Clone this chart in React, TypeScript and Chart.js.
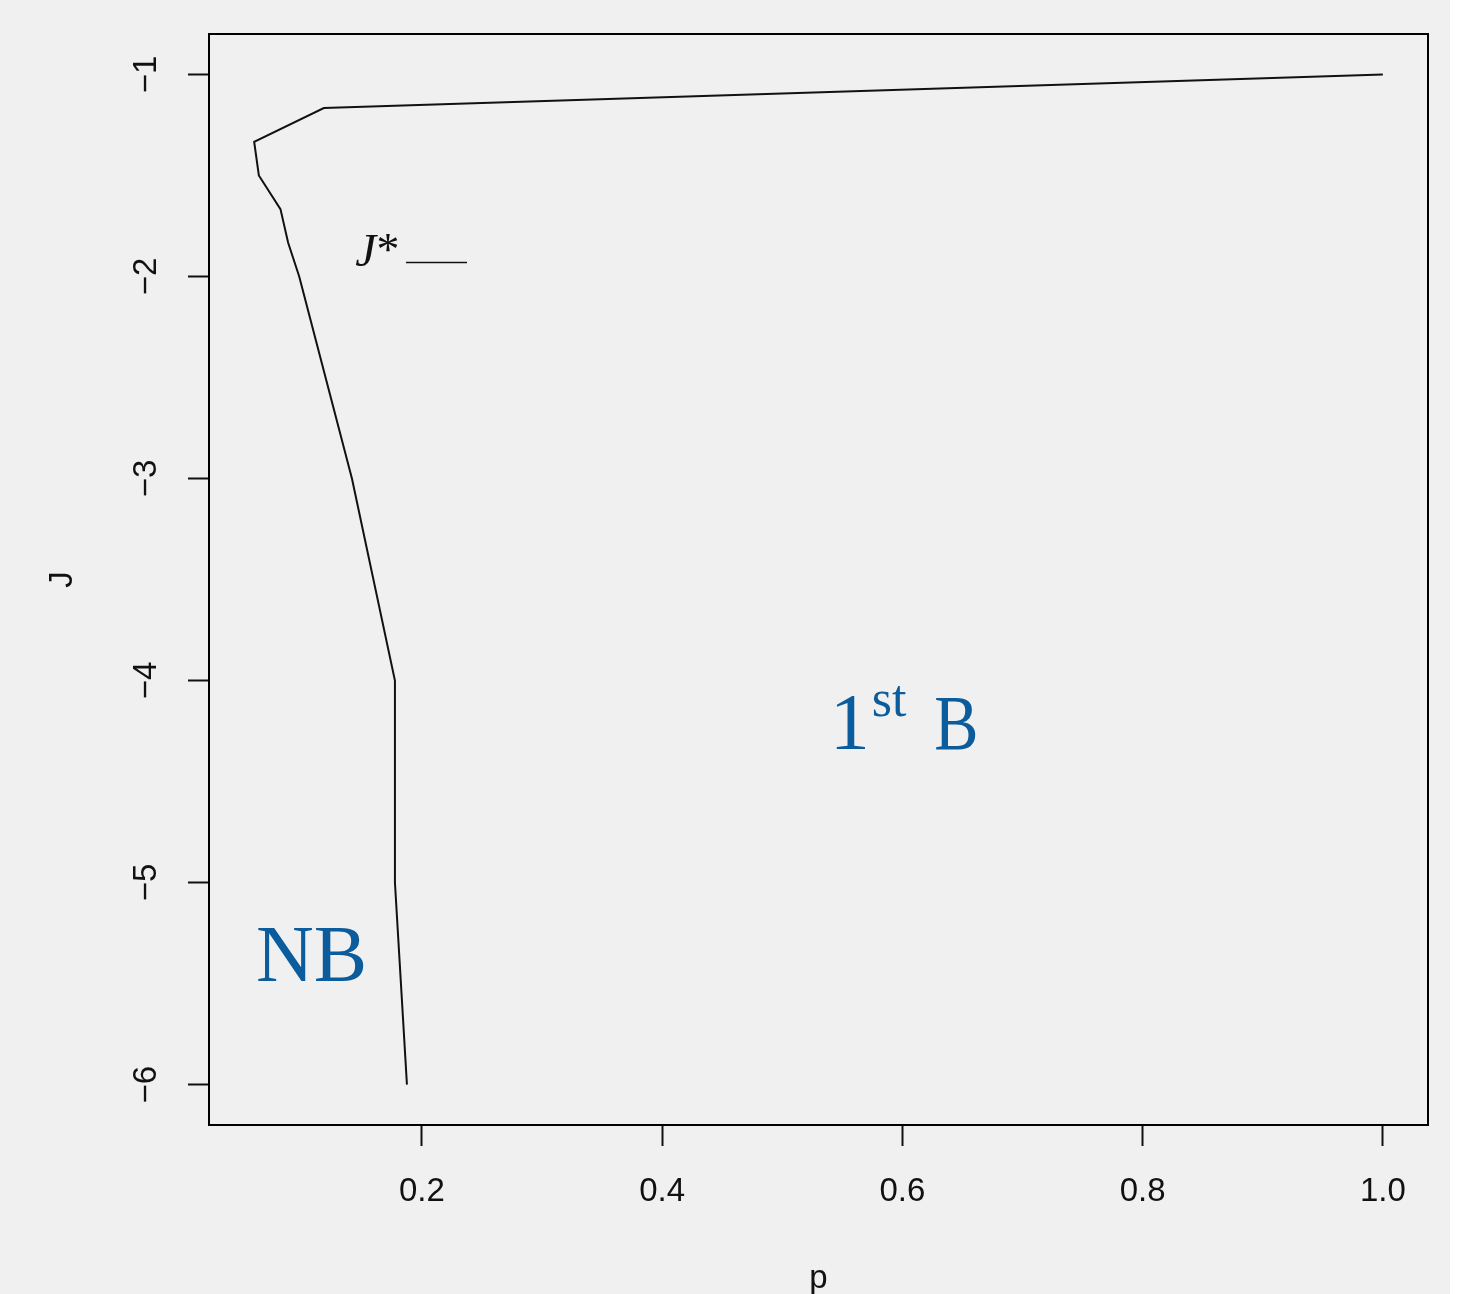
import React, { useEffect, useRef } from "react";
import { Chart, registerables } from "chart.js";

Chart.register(...registerables);

// Boundary curve J*(p)
const pValues = [1.0, 0.1183, 0.0603, 0.0642, 0.0822, 0.0886, 0.0978, 0.1417, 0.1775, 0.1775, 0.1875];
const jValues = [-1, -1.1667, -1.3333, -1.5, -1.6667, -1.8333, -2, -3, -4, -5, -6];

const xTickValues = [0.2, 0.4, 0.6, 0.8, 1.0];
const xTickLabels = ["0.2", "0.4", "0.6", "0.8", "1.0"];
const yTickValues = [-1, -2, -3, -4, -5, -6];
const yTickLabels = ["\u22121", "\u22122", "\u22123", "\u22124", "\u22125", "\u22126"];

const xAxisTitle = "p";
const yAxisTitle = "J";
const legendLabel = ["J", "*"];
const regionNB = "NB";
const regionFirst = ["1", "st", "B"];

const W = 1450;
const H = 1294;
const BG = "#f0f0f0";
const BLUE = "#0b5c9c";
const SANS = "'Liberation Sans', Arial, sans-serif";
const SERIF = "'Liberation Serif', 'DejaVu Serif', serif";

const decorPlugin = {
  id: "decor",
  beforeDraw(chart: any) {
    const ctx = chart.ctx;
    ctx.save();
    ctx.fillStyle = BG;
    ctx.fillRect(0, 0, chart.width, chart.height);
    ctx.restore();
  },
  afterDraw(chart: any) {
    const ctx = chart.ctx;
    const { left, top, right, bottom } = chart.chartArea;
    const xs = chart.scales.x;
    const ys = chart.scales.y;
    ctx.save();
    // box
    ctx.strokeStyle = "#000";
    ctx.lineWidth = 2;
    ctx.strokeRect(left, top, right - left, bottom - top);

    // legend-like label J* ——
    ctx.fillStyle = "#111";
    ctx.textBaseline = "alphabetic";
    ctx.textAlign = "left";
    const jx = xs.getPixelForValue(0.1445);
    const jy = ys.getPixelForValue(-1.95);
    ctx.font = `italic 47px ${SERIF}`;
    ctx.fillText(legendLabel[0], jx, jy);
    const wj = ctx.measureText(legendLabel[0]).width;
    ctx.font = `italic 46px ${SERIF}`;
    ctx.fillText(legendLabel[1], jx + wj - 2, jy - 1);
    ctx.beginPath();
    ctx.lineWidth = 1.6;
    ctx.strokeStyle = "#111";
    const ly = ys.getPixelForValue(-1.931);
    ctx.moveTo(xs.getPixelForValue(0.1867), ly);
    ctx.lineTo(xs.getPixelForValue(0.2375), ly);
    ctx.stroke();

    // region labels
    ctx.fillStyle = BLUE;
    ctx.font = `80px ${SERIF}`;
    ctx.fillText(regionNB, xs.getPixelForValue(0.0618), ys.getPixelForValue(-5.485));

    const bx = xs.getPixelForValue(0.5395);
    const by = ys.getPixelForValue(-4.337);
    ctx.fillText(regionFirst[0], bx, by);
    const w1 = ctx.measureText(regionFirst[0]).width;
    ctx.font = `52px ${SERIF}`;
    ctx.fillText(regionFirst[1], bx + w1 + 2, by - 33);
    ctx.font = `78px ${SERIF}`;
    ctx.save();
    ctx.translate(xs.getPixelForValue(0.6265), by);
    ctx.scale(0.85, 1);
    ctx.fillText(regionFirst[2], 0, 0);
    ctx.restore();
    ctx.restore();
  },
};

export default function App() {
  const ref = useRef<HTMLCanvasElement | null>(null);
  useEffect(() => {
    document.body.style.margin = "0";
    document.body.style.background = "#ffffff";
    const canvas = ref.current;
    if (!canvas) return;
    const points = pValues.map((p, i) => ({ x: p, y: jValues[i] }));
    const chart = new Chart(canvas, {
      type: "scatter",
      data: {
        datasets: [
          {
            data: points,
            showLine: true,
            borderColor: "#111",
            borderWidth: 2,
            pointRadius: 0,
            fill: false,
            tension: 0,
          },
        ],
      },
      options: {
        animation: false,
        responsive: false,
        maintainAspectRatio: false,
        devicePixelRatio: 1,
        layout: { padding: { top: 34, right: 22, left: 0, bottom: 0 } },
        plugins: { legend: { display: false }, tooltip: { enabled: false } },
        scales: {
          x: {
            type: "linear",
            min: 0.0227,
            max: 1.0376,
            afterBuildTicks: (s: any) => {
              s.ticks = xTickValues.map((v) => ({ value: v }));
            },
            afterFit: (s: any) => {
              s.height = 169;
              s.paddingLeft = 0;
              s.paddingRight = 0;
            },
            ticks: {
              autoSkip: false,
              maxRotation: 0,
              minRotation: 0,
              padding: 26,
              color: "#111",
              font: { family: SANS, size: 33 },
              callback: (v: any) => {
                const i = xTickValues.findIndex((t) => Math.abs(t - Number(v)) < 1e-9);
                return i >= 0 ? xTickLabels[i] : "";
              },
            },
            grid: {
              drawOnChartArea: false,
              drawTicks: true,
              tickLength: 21,
              tickColor: "#111",
              tickWidth: 2,
            },
            border: { display: false },
            title: {
              display: true,
              text: xAxisTitle,
              color: "#111",
              font: { family: SANS, size: 33 },
              padding: { top: 0, bottom: -5 },
            },
          },
          y: {
            type: "linear",
            min: -6.2,
            max: -0.8,
            afterBuildTicks: (s: any) => {
              s.ticks = yTickValues.map((v) => ({ value: v }));
            },
            afterFit: (s: any) => {
              s.width = 209;
              s.paddingTop = 0;
              s.paddingBottom = 0;
            },
            ticks: {
              autoSkip: false,
              minRotation: 90,
              maxRotation: 90,
              crossAlign: "center",
              padding: 22,
              color: "#111",
              font: { family: SANS, size: 33 },
              callback: (v: any) => {
                const i = yTickValues.findIndex((t) => Math.abs(t - Number(v)) < 1e-9);
                return i >= 0 ? yTickLabels[i] : "";
              },
            },
            grid: {
              drawOnChartArea: false,
              drawTicks: true,
              tickLength: 21,
              tickColor: "#111",
              tickWidth: 2,
            },
            border: { display: false },
            title: {
              display: true,
              text: yAxisTitle,
              color: "#111",
              font: { family: SANS, size: 33 },
              padding: { top: 43, bottom: 0 },
            },
          },
        },
      },
      plugins: [decorPlugin],
    } as any);
    return () => chart.destroy();
  }, []);
  return (
    <div style={{ width: W, height: H }}>
      <canvas ref={ref} width={W} height={H} style={{ display: "block", width: W, height: H }} />
    </div>
  );
}
